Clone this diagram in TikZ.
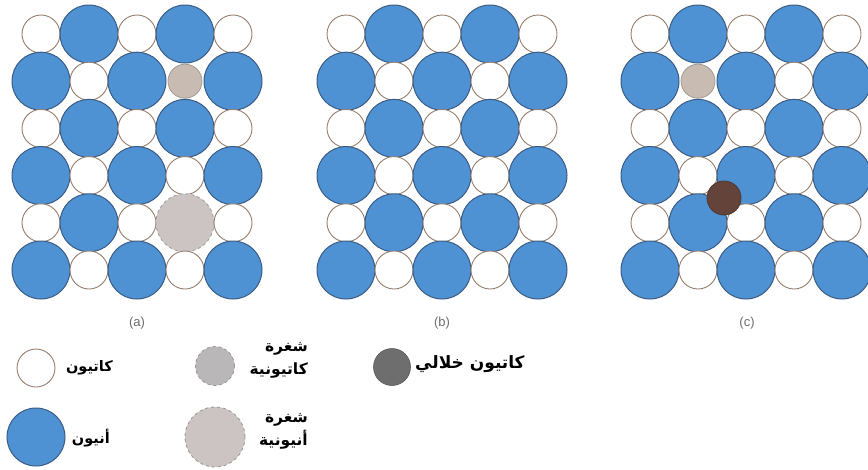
\documentclass[tikz,border=0pt]{standalone}
\usepackage{fontspec}
\setsansfont{Liberation Sans}
\newfontfamily\arabicfont[Script=Arabic]{DejaVu Sans}
\TeXXeTstate=1
\definecolor{anionblue}{RGB}{78,146,212}
\definecolor{anionedge}{RGB}{58,92,132}
\definecolor{catedge}{RGB}{150,125,110}
\definecolor{catvacfill}{RGB}{200,188,178}
\definecolor{catvacedge}{RGB}{165,155,145}
\definecolor{anvacfill}{RGB}{203,196,194}
\definecolor{anvacedge}{RGB}{160,155,150}
\definecolor{interfill}{RGB}{100,68,58}
\definecolor{interedge}{RGB}{80,55,48}
\definecolor{leginter}{RGB}{110,110,110}
\definecolor{legcatvac}{RGB}{185,183,183}
\definecolor{legedge}{RGB}{150,150,150}
\definecolor{labelgray}{RGB}{110,110,110}
\tikzset{
  atom/.style={circle, inner sep=0pt, outer sep=0pt},
  cation/.style={atom, minimum size=38pt, fill=white, draw=catedge, line width=0.9pt},
  anion/.style={atom, minimum size=58pt, fill=anionblue, draw=anionedge, line width=1pt},
  catvac/.style={atom, minimum size=34pt, fill=catvacfill, draw=catvacedge, line width=0.8pt},
  anvac/.style={atom, minimum size=58pt, fill=anvacfill, draw=anvacedge, dashed, line width=0.8pt},
  interst/.style={atom, minimum size=34pt, fill=interfill, draw=interedge, line width=0.8pt},
  legcv/.style={atom, minimum size=39pt, fill=legcatvac, draw=legedge, dashed, line width=0.8pt},
  legav/.style={atom, minimum size=60pt, fill=anvacfill, draw=legedge, dashed, line width=0.8pt},
  legint/.style={atom, minimum size=37pt, fill=leginter, draw=leginter!80!black, line width=0.6pt},
  lbl/.style={font=\sffamily\fontsize{13}{13}\selectfont, text=labelgray},
  ar/.style={font=\arabicfont\bfseries\fontsize{14.5}{22}\selectfont, align=right, inner sep=0pt, text=black},
  armid/.style={ar, font=\arabicfont\bfseries\fontsize{15.5}{23}\selectfont},
  arbig/.style={ar, font=\arabicfont\bfseries\fontsize{17}{22}\selectfont},
}
\expandafter\def\csname kind-a-2-4\endcsname{catvac}
\expandafter\def\csname kind-a-5-4\endcsname{anvac}
\expandafter\def\csname kind-c-2-2\endcsname{catvac}
\begin{document}
\begin{tikzpicture}[x=1pt,y=-1pt]
\clip (0,0) rectangle (868,469);
\fill[white] (0,0) rectangle (868,469);
% lattices
\foreach \p/\ox in {a/41, b/346, c/650} {
  \foreach \r in {1,...,6} {
    \foreach \c in {1,...,5} {
      \pgfmathtruncatemacro{\pty}{mod(\r+\c,2)}
      \ifnum\pty=0 \def\kind{cation}\else\def\kind{anion}\fi
      \ifcsname kind-\p-\r-\c\endcsname \edef\kind{\csname kind-\p-\r-\c\endcsname}\fi
      \node[\kind] (\p\r\c) at ({\ox+48*(\c-1)},{34+47.2*(\r-1)}) {};
    }
  }
}
\node[interst] (cint) at (724,198) {};
% panel labels
\node[lbl] (la) at (137,323) {(a)};
\node[lbl] (lb) at (442,323) {(b)};
\node[lbl] (lc) at (747,323) {(c)};
% legend
\node[cation] (Lcat) at (36,368) {};
\node[ar, anchor=east] (Lcatt) at (113,368) {\beginR كاتيون\endR};
\node[anion] (Lan) at (36,437) {};
\node[ar, anchor=east] (Lant) at (110,438) {\beginR أنيون\endR};
\node[legcv] (Lcv) at (215,366) {};
\node[armid, anchor=east] (Lcvt) at (308,360) {\beginR شغرة\endR\\\beginR كاتيونية\endR};
\node[legav] (Lav) at (215,437) {};
\node[armid, anchor=east] (Lavt) at (308,431) {\beginR شغرة\endR\\\beginR أنيونية\endR};
\node[legint] (Lint) at (392,367) {};
\node[arbig, anchor=west] (Lintt) at (415,364) {\beginR كاتيون خلالي\endR};
\end{tikzpicture}
\end{document}
